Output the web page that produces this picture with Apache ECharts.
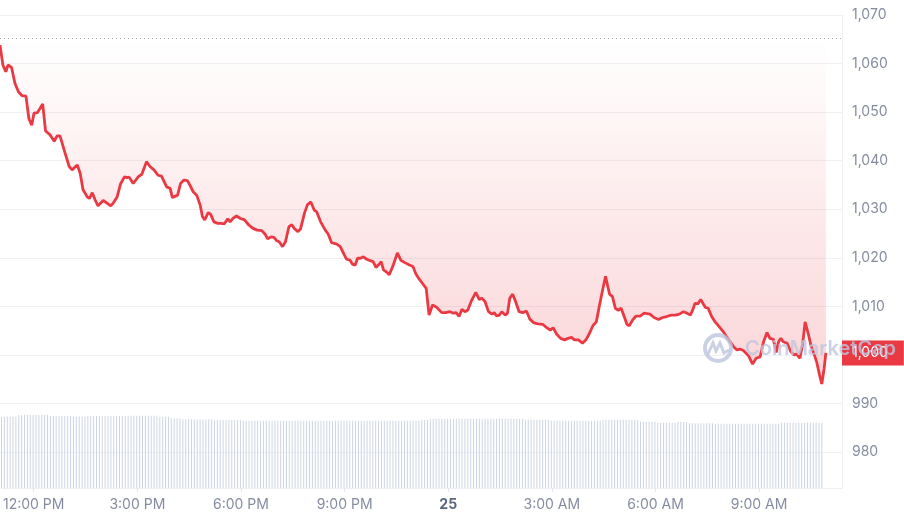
<!DOCTYPE html>
<html>
<head>
<meta charset="utf-8">
<script src="https://cdn.jsdelivr.net/npm/echarts@6/dist/echarts.min.js"></script>
<style>
html, body { margin: 0; padding: 0; background: #fff; }
#chart { width: 904px; height: 522px; }
</style>
</head>
<body>
<div id="chart"></div>
<script>
// minutes relative to 12:00 PM of the 24th
const priceMinutes = [
  -56, -51, -46, -42, -36, -30, -24, -18, -11, -6,
  -1, 3, 9, 18, 23, 31, 38, 43, 48, 57,
  64, 69, 78, 83, 88, 95, 99, 104, 109, 114,
  123, 129, 136, 140, 147, 153, 160, 164, 168, 175,
  184, 190, 198, 204, 211, 218, 224, 233, 239, 243,
  252, 257, 263, 269, 273, 279, 285, 291, 295, 299,
  305, 309, 315, 321, 327, 333, 339, 343, 348, 354,
  361, 368, 375, 382, 390, 398, 404, 408, 414, 419,
  424, 428, 434, 439, 445, 450, 454, 460, 465, 472,
  477, 483, 489, 493, 500, 508, 513, 519, 528, 534,
  541, 545, 551, 555, 560, 564, 569, 574, 580, 586,
  591, 596, 600, 605, 609, 615, 619, 626, 633, 639,
  646, 654, 660, 665, 671, 678, 683, 688, 694, 701,
  710, 717, 724, 730, 735, 740, 745, 750, 755, 761,
  769, 775, 779, 785, 791, 797, 801, 805, 810, 814,
  820, 824, 828, 833, 838, 844, 850, 857, 863, 870,
  877, 885, 892, 898, 903, 909, 916, 923, 929, 935,
  940, 947, 954, 960, 966, 972, 978, 983, 989, 994,
  998, 1001, 1006, 1011, 1016, 1021, 1026, 1031, 1035, 1041,
  1047, 1054, 1061, 1064, 1071, 1078, 1086, 1093, 1100, 1108,
  1115, 1122, 1129, 1135, 1141, 1145, 1149, 1154, 1159, 1163,
  1167, 1172, 1178, 1184, 1191, 1198, 1204, 1210, 1216, 1222,
  1227, 1233, 1242, 1249, 1255, 1262, 1268, 1274, 1279, 1285,
  1290, 1294, 1298, 1302, 1309, 1315, 1321, 1325, 1331, 1336,
  1340, 1346, 1350, 1356, 1360, 1365, 1369, 1373, 1376
]
const priceValues = [
  1063.8, 1059.7, 1058.3, 1059.7, 1059.2, 1055.9, 1054.2, 1053.4, 1053.3, 1048.7,
  1047.3, 1049.8, 1049.9, 1051.7, 1046.1, 1045.3, 1044.0, 1045.1, 1045.1, 1041.5,
  1038.8, 1038.1, 1039.1, 1037.4, 1034.0, 1032.6, 1032.2, 1033.4, 1031.9, 1030.7,
  1031.8, 1031.3, 1030.7, 1031.2, 1032.5, 1035.2, 1036.7, 1036.5, 1036.6, 1035.3,
  1036.7, 1037.2, 1039.8, 1038.8, 1038.1, 1037.0, 1036.8, 1034.6, 1034.3, 1032.4,
  1032.9, 1035.3, 1036.0, 1035.9, 1035.0, 1033.6, 1032.9, 1030.9, 1028.5, 1027.8,
  1029.3, 1029.0, 1027.4, 1027.1, 1027.1, 1027.0, 1028.0, 1027.4, 1028.1, 1028.6,
  1028.1, 1027.8, 1026.8, 1026.1, 1025.7, 1025.6, 1024.8, 1023.9, 1024.3, 1024.2,
  1023.5, 1023.3, 1022.3, 1023.3, 1026.4, 1026.8, 1026.1, 1025.4, 1025.9, 1029.2,
  1030.9, 1031.5, 1029.8, 1029.5, 1027.4, 1025.7, 1024.9, 1023.1, 1022.8, 1022.3,
  1020.6, 1019.7, 1019.5, 1018.7, 1018.5, 1019.9, 1019.9, 1020.2, 1019.7, 1019.4,
  1019.2, 1018.0, 1018.5, 1019.2, 1017.5, 1017.0, 1016.5, 1018.5, 1021.0, 1019.5,
  1019.0, 1018.5, 1018.2, 1016.7, 1015.6, 1014.5, 1013.7, 1008.2, 1010.3, 1009.8,
  1008.7, 1008.7, 1008.9, 1008.6, 1008.7, 1007.9, 1009.4, 1008.9, 1009.2, 1011.0,
  1012.9, 1011.4, 1011.7, 1011.0, 1008.9, 1008.4, 1008.7, 1008.0, 1008.2, 1008.9,
  1008.2, 1008.6, 1011.7, 1012.5, 1011.0, 1008.9, 1008.7, 1009.0, 1007.3, 1006.6,
  1006.4, 1006.3, 1005.6, 1005.1, 1005.6, 1004.3, 1003.4, 1003.1, 1003.4, 1003.6,
  1003.1, 1003.1, 1002.4, 1003.1, 1004.4, 1006.0, 1006.8, 1009.9, 1013.4, 1016.2,
  1014.0, 1012.5, 1012.0, 1009.6, 1009.2, 1009.6, 1008.0, 1006.3, 1006.0, 1007.2,
  1008.0, 1008.0, 1008.6, 1009.0, 1008.4, 1007.7, 1007.3, 1007.7, 1007.9, 1008.2,
  1008.2, 1008.4, 1008.9, 1008.6, 1008.2, 1009.2, 1010.6, 1010.5, 1011.4, 1010.6,
  1009.8, 1009.6, 1007.9, 1006.8, 1005.8, 1004.8, 1003.7, 1002.7, 1001.7, 1001.0,
  1001.2, 1000.9, 999.8, 998.1, 999.3, 999.6, 1002.7, 1004.6, 1003.4, 1003.2,
  1000.5, 1002.7, 1003.4, 1002.7, 1002.4, 1000.7, 1000.0, 1000.2, 999.3, 1002.4,
  1006.8, 1004.1, 1002.0, 1000.0, 998.6, 995.9, 994.0, 997.2, 1000.4
]
const openPrice = 1065.2
const lastPrice = 1000.4

// volume bars every 5 minutes
const volumeStartMinute = -56
const volumeStepMinutes = 5
const volumeValues = [
  95.1, 95.1, 95.1, 95.1, 95.1, 95.1, 97.3, 97.3, 97.3, 97.3,
  97.3, 97.3, 97.3, 97.3, 97.3, 97.3, 97.3, 96.0, 96.0, 96.0,
  96.0, 96.0, 96.0, 96.0, 96.0, 95.1, 95.1, 95.1, 95.1, 95.1,
  96.0, 96.0, 96.0, 96.0, 96.0, 96.0, 96.0, 96.0, 96.0, 96.0,
  96.0, 96.0, 96.0, 96.4, 96.4, 96.4, 96.4, 96.4, 96.4, 96.4,
  96.4, 96.4, 96.4, 96.4, 96.4, 95.1, 95.1, 95.1, 95.1, 92.9,
  92.9, 92.9, 92.9, 91.6, 91.6, 91.6, 91.6, 91.6, 91.6, 91.6,
  91.6, 91.6, 91.6, 91.6, 90.7, 90.7, 90.7, 90.7, 90.7, 90.7,
  90.7, 90.7, 90.7, 90.7, 89.7, 89.7, 89.7, 89.7, 89.7, 89.7,
  89.7, 89.7, 89.7, 89.7, 89.7, 89.7, 89.7, 89.7, 89.7, 89.7,
  89.7, 89.7, 89.7, 89.7, 89.7, 89.7, 89.7, 89.7, 89.7, 89.7,
  89.7, 89.7, 89.7, 89.7, 89.7, 89.7, 89.7, 89.7, 89.7, 89.7,
  89.7, 89.7, 89.7, 89.7, 89.7, 89.7, 89.7, 89.7, 89.7, 89.7,
  89.7, 89.7, 89.7, 89.7, 89.7, 89.7, 89.7, 89.7, 89.7, 89.7,
  89.7, 89.7, 89.7, 89.7, 89.7, 89.7, 90.7, 90.7, 90.7, 92.4,
  92.4, 92.4, 92.4, 92.4, 92.4, 92.4, 92.4, 92.4, 92.4, 92.4,
  92.4, 92.4, 92.4, 92.4, 92.4, 92.4, 92.4, 92.4, 92.4, 92.4,
  92.4, 92.4, 92.4, 92.4, 92.4, 92.4, 92.4, 92.4, 92.4, 92.4,
  92.4, 92.4, 91.1, 91.1, 91.1, 91.1, 91.1, 91.1, 91.1, 91.1,
  91.1, 89.7, 89.7, 89.7, 89.7, 89.7, 89.7, 89.7, 89.7, 89.7,
  89.7, 89.7, 89.7, 89.7, 89.7, 89.7, 89.7, 89.7, 89.7, 91.1,
  91.1, 91.1, 91.1, 91.1, 91.1, 91.1, 91.1, 91.1, 91.1, 91.1,
  91.1, 91.1, 88.4, 88.4, 88.4, 88.4, 88.4, 88.4, 87.1, 87.1,
  87.1, 87.1, 87.1, 87.1, 87.1, 88.0, 88.0, 88.0, 88.0, 86.3,
  86.3, 86.3, 86.3, 86.3, 86.3, 86.3, 86.3, 86.3, 85.7, 85.7,
  85.7, 85.7, 85.7, 85.7, 85.7, 85.7, 85.7, 85.7, 85.7, 85.7,
  85.7, 85.7, 85.7, 85.7, 85.7, 85.7, 85.7, 85.7, 85.7, 85.7,
  85.7, 87.1, 87.1, 87.1, 87.1, 87.1, 87.1, 87.1, 87.1, 87.1,
  87.1, 87.1, 87.1, 87.1, 87.1, 87.1
]

const xTickMinutes = [0, 180, 360, 540, 720, 900, 1080, 1260]
const xTickLabels = ['12:00 PM', '3:00 PM', '6:00 PM', '9:00 PM', '25', '3:00 AM', '6:00 AM', '9:00 AM']

const xMin = -56
const xMax = 1404

const red = '#ea3943'
const gray = '#858ca2'
const font = 'Inter, "Noto Sans", sans-serif'
const markColor = 'rgba(190,198,222,0.8)'

const chart = echarts.init(document.getElementById('chart'))

const option = {
  animation: false,
  backgroundColor: '#fff',
  grid: [
    { left: 0, right: 62, top: 15, height: 437 },
    { left: 0, right: 62, top: 413, bottom: 34 }
  ],
  xAxis: [
    {
      type: 'value',
      gridIndex: 0,
      min: xMin,
      max: xMax,
      show: false
    },
    {
      type: 'value',
      gridIndex: 1,
      min: xMin,
      max: xMax,
      axisLine: { show: true, onZero: false, lineStyle: { color: '#eef0f3' } },
      axisTick: {
        show: true,
        customValues: xTickMinutes,
        length: 4,
        lineStyle: { color: '#e3e6ec' }
      },
      axisLabel: {
        customValues: xTickMinutes,
        color: gray,
        fontSize: 14,
        fontFamily: font,
        margin: 10,
        formatter: (v) => {
          const i = xTickMinutes.indexOf(Math.round(v))
          if (i < 0) return ''
          if (xTickLabels[i] === '25') return '{b|25}'
          return xTickLabels[i]
        },
        rich: {
          b: { fontSize: 14, fontWeight: 'bold', color: '#58667e', fontFamily: font }
        }
      },
      splitLine: { show: false }
    }
  ],
  yAxis: [
    {
      type: 'value',
      gridIndex: 0,
      position: 'right',
      min: 980,
      max: 1070,
      interval: 10,
      axisLine: { show: true, onZero: false, lineStyle: { color: '#eef0f3' } },
      axisTick: { show: false },
      axisLabel: {
        color: gray,
        fontSize: 14,
        fontFamily: font,
        margin: 10,
        formatter: (v) => v.toLocaleString('en-US')
      },
      splitLine: { lineStyle: { color: '#f0f1f4' } }
    },
    {
      type: 'value',
      gridIndex: 1,
      position: 'right',
      min: 0,
      max: 100,
      axisLine: { show: true, onZero: false, lineStyle: { color: '#eef0f3' } },
      axisTick: { show: false },
      axisLabel: { show: false },
      splitLine: { show: false }
    }
  ],
  series: [
    {
      type: 'bar',
      xAxisIndex: 1,
      yAxisIndex: 1,
      barWidth: 1,
      itemStyle: { color: '#cdd4e2' },
      data: volumeValues.map((v, i) => [volumeStartMinute + i * volumeStepMinutes, v])
    },
    {
      type: 'line',
      xAxisIndex: 0,
      yAxisIndex: 0,
      showSymbol: false,
      lineStyle: { color: red, width: 2.8 },
      areaStyle: {
        origin: openPrice,
        color: new echarts.graphic.LinearGradient(0, 0, 0, 1, [
          { offset: 0, color: 'rgba(234,57,67,0)' },
          { offset: 1, color: 'rgba(234,57,67,0.3)' }
        ])
      },
      data: priceMinutes.map((m, i) => [m, priceValues[i]]),
      markLine: {
        silent: true,
        symbol: 'none',
        data: [
          {
            yAxis: openPrice,
            lineStyle: { color: '#a9adb6', width: 1, type: [1, 3] },
            label: { show: false }
          },
          {
            yAxis: lastPrice,
            lineStyle: { color: 'rgba(0,0,0,0)', width: 1, type: 'solid' },
            label: {
              show: true,
              position: 'end',
              distance: 0,
              formatter: Math.round(lastPrice).toLocaleString('en-US'),
              backgroundColor: red,
              color: '#fff',
              fontSize: 14,
              fontFamily: font,
              lineHeight: 15,
              padding: [5, 16, 5, 10]
            }
          }
        ]
      }
    }
  ],
  graphic: [
    {
      type: 'circle',
      zlevel: 1,
      z: 100,
      silent: true,
      shape: { cx: 718, cy: 348, r: 13 },
      style: { fill: 'none', stroke: markColor, lineWidth: 4 }
    },
    {
      type: 'polyline',
      zlevel: 1,
      z: 100,
      silent: true,
      shape: { points: [[708, 354], [713, 343], [716, 351], [720, 343], [724, 353], [729, 350]] },
      style: { fill: 'none', stroke: markColor, lineWidth: 3 }
    },
    {
      type: 'text',
      zlevel: 1,
      z: 100,
      silent: true,
      x: 745,
      y: 349,
      style: {
        text: 'CoinMarketCap',
        font: '600 20px Inter, "Noto Sans", sans-serif',
        fill: markColor,
        verticalAlign: 'middle'
      }
    }
  ]
}

chart.setOption(option)
</script>
</body>
</html>
